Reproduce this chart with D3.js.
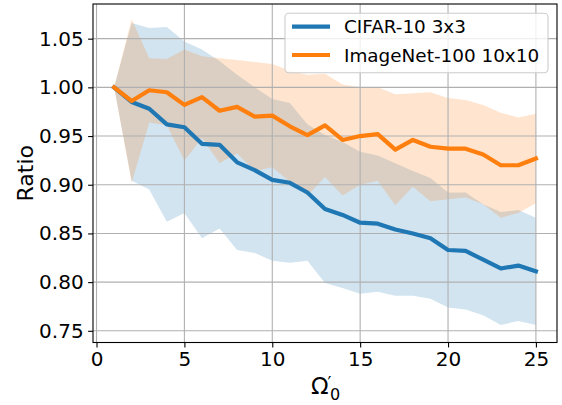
<!DOCTYPE html>
<html>
<head>
<meta charset="utf-8">
<script src="https://cdn.jsdelivr.net/npm/d3@7"></script>
<style>
  html, body { margin: 0; padding: 0; background: #fff; }
  svg { display: block; font-family: "DejaVu Sans", sans-serif; }
</style>
</head>
<body>
<svg id="chart" width="562" height="405"></svg>
<script>
// ---- data ----
const omega = [1,2,3,4,5,6,7,8,9,10,11,12,13,14,15,16,17,18,19,20,21,22,23,24,25];
const cifarMean = [1.000,0.985,0.978,0.962,0.959,0.942,0.941,0.923,0.915,0.905,0.902,0.892,0.875,0.869,0.861,0.860,0.854,0.850,0.845,0.833,0.832,0.823,0.814,0.817,0.811];
const cifarStd  = [0.000,0.081,0.083,0.100,0.088,0.097,0.086,0.090,0.085,0.083,0.082,0.070,0.076,0.075,0.073,0.070,0.068,0.064,0.062,0.059,0.060,0.057,0.058,0.057,0.055];
const imagenetMean = [1.000,0.986,0.997,0.995,0.982,0.990,0.976,0.980,0.970,0.971,0.960,0.951,0.961,0.946,0.950,0.952,0.936,0.946,0.939,0.937,0.937,0.931,0.920,0.920,0.927];
const imagenetStd  = [0.000,0.084,0.033,0.034,0.057,0.042,0.054,0.048,0.056,0.053,0.057,0.062,0.053,0.057,0.050,0.048,0.057,0.048,0.056,0.052,0.050,0.051,0.054,0.049,0.046];
const seriesNames = ["CIFAR-10 3x3", "ImageNet-100 10x10"];
const seriesColors = ["#1f77b4", "#ff7f0e"];
const xTicks = [0,5,10,15,20,25];
const yTicks = [0.75,0.80,0.85,0.90,0.95,1.00,1.05];

const series = [
  {name: seriesNames[0], color: seriesColors[0], mean: cifarMean, std: cifarStd},
  {name: seriesNames[1], color: seriesColors[1], mean: imagenetMean, std: imagenetStd}
];

// ---- layout ----
const svg = d3.select("#chart");
const L = 93, R = 557, T = 4, B = 342.5;
const x = d3.scaleLinear().domain([-0.2, 26.2]).range([L, R]);
const y = d3.scaleLinear().domain([0.738, 1.0856]).range([B, T]);

const plot = svg.append("g");

// fills
series.forEach(s => {
  const area = d3.area()
    .x((d, i) => x(omega[i]))
    .y0((d, i) => y(s.mean[i] - s.std[i]))
    .y1((d, i) => y(s.mean[i] + s.std[i]));
  plot.append("path").datum(s.mean).attr("d", area)
    .attr("fill", s.color).attr("fill-opacity", 0.2).attr("stroke", "none");
});

// grid
const grid = svg.append("g");
xTicks.forEach(t => grid.append("line")
  .attr("x1", x(t)).attr("x2", x(t)).attr("y1", T).attr("y2", B)
  .attr("stroke", "#b0b0b0").attr("stroke-width", 1.1));
yTicks.forEach(t => grid.append("line")
  .attr("x1", L).attr("x2", R).attr("y1", y(t)).attr("y2", y(t))
  .attr("stroke", "#b0b0b0").attr("stroke-width", 1.1));

// lines
series.forEach(s => {
  const line = d3.line().x((d, i) => x(omega[i])).y(d => y(d));
  svg.append("path").datum(s.mean).attr("d", line)
    .attr("fill", "none").attr("stroke", s.color).attr("stroke-width", 4.2)
    .attr("stroke-linejoin", "round").attr("stroke-linecap", "square");
});

// axes
const xAxis = d3.axisBottom(x).tickValues(xTicks).tickFormat(d3.format("d")).tickSize(4.9).tickPadding(4.5);
const yAxis = d3.axisLeft(y).tickValues(yTicks).tickFormat(d3.format(".2f")).tickSize(4.9).tickPadding(4.5);
const gx = svg.append("g").attr("transform", `translate(0,${B})`).call(xAxis);
const gy = svg.append("g").attr("transform", `translate(${L},0)`).call(yAxis);
[gx, gy].forEach(g => {
  g.select(".domain").remove();
  g.selectAll(".tick line").attr("stroke", "#000").attr("stroke-width", 1.1);
  g.selectAll(".tick text").attr("fill", "#000").attr("font-size", 20)
    .attr("font-family", "DejaVu Sans");
});

// frame
svg.append("rect").attr("x", L).attr("y", T).attr("width", R - L).attr("height", B - T)
  .attr("fill", "none").attr("stroke", "#000").attr("stroke-width", 1.1);

// axis labels
svg.append("text").attr("transform", `translate(33,${(T + B) / 2}) rotate(-90)`)
  .attr("text-anchor", "middle").attr("font-size", 22).attr("fill", "#000").text("Ratio");
const xl = svg.append("g");
xl.append("text").attr("x", 311).attr("y", 393.5).attr("font-size", 23).attr("fill", "#000").text("Ω");
xl.append("text").attr("x", 327.5).attr("y", 389).attr("font-size", 17).attr("fill", "#000").text("′");
xl.append("text").attr("x", 330).attr("y", 400).attr("font-size", 16).attr("fill", "#000").text("0");

// legend
const lg = svg.append("g");
lg.append("rect").attr("x", 285).attr("y", 13.3).attr("width", 263).attr("height", 59.4)
  .attr("rx", 3.7).attr("fill", "#fff").attr("fill-opacity", 0.8)
  .attr("stroke", "#cccccc").attr("stroke-width", 1.1);
series.forEach((s, i) => {
  const cy = 26.7 + i * 28.3;
  lg.append("line").attr("x1", 292).attr("x2", 330).attr("y1", cy).attr("y2", cy)
    .attr("stroke", s.color).attr("stroke-width", 4.2);
  lg.append("text").attr("x", 344).attr("y", cy + 6.7).attr("font-size", 18.4)
    .attr("fill", "#000").text(s.name);
});
</script>
</body>
</html>
